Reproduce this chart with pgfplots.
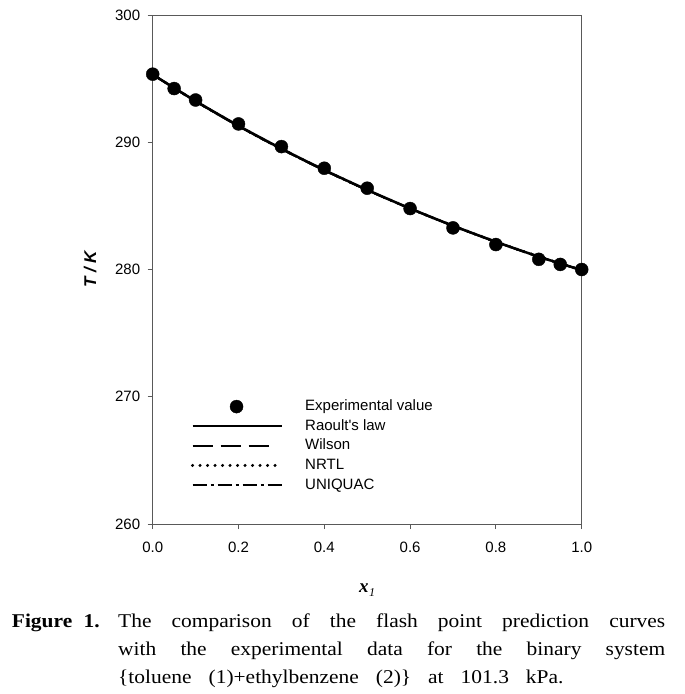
\documentclass[border=0pt]{standalone}
\usepackage{pgfplots}
\pgfplotsset{compat=1.18}
\usepackage{fontspec}
\setmainfont{Liberation Serif}
\newfontfamily\arial{Liberation Sans}
\newfontfamily\capfont[FakeStretch=1.1]{Liberation Serif}
\pgfplotsset{
  legline/.style={legend image code/.code={\draw[##1] (0pt,0pt) -- (#1,0pt);}},
  legmark/.style={legend image code/.code={\draw[mark repeat=2,mark phase=2,##1] plot coordinates {(0pt,0pt) (44pt,0pt) (89pt,0pt)};}},
}
\begin{document}
\begin{tikzpicture}
\useasboundingbox (0pt,0pt) rectangle (685pt,-694pt);
\begin{axis}[
  at={(152.7pt,-524pt)}, anchor=south west,
  scale only axis, width=429pt, height=509pt,
  xmin=0, xmax=1, ymin=260, ymax=300,
  xtick={0,0.2,...,1.0}, ytick={260,270,...,300},
  xtick pos=left, ytick pos=left, tick align=outside,
  major tick length=5pt,
  axis line style={black!65, line width=0.9pt},
  tick style={black!65, line width=0.9pt},
  /pgf/number format/assume math mode=true,
  ticklabel style={font=\arial\fontsize{15}{18}\selectfont},
  xticklabel style={yshift=-9pt, /pgf/number format/fixed, /pgf/number format/fixed zerofill, /pgf/number format/precision=1},
  yticklabel style={xshift=-4pt, /pgf/number format/fixed},
  every axis y label/.style={at={(axis description cs:-0.146,0.5)}, rotate=90, anchor=center},
  every axis x label/.style={at={(axis description cs:0.5,-0.13)}, anchor=center},
  ylabel={\arial\fontsize{17}{18}\selectfont\bfseries\itshape T / K},
  xlabel={\fontsize{19}{20}\selectfont\bfseries\itshape x\kern0.5pt\raisebox{-4.5pt}{\fontsize{12}{14}\selectfont\mdseries 1}},
  legend cell align=left,
  legend style={at={(axis description cs:0.0886,0.2448)}, anchor=north west, draw=none, fill=none,
    inner sep=0pt, column sep=22pt, row sep=5.6pt,
    nodes={inner sep=0pt, text height=11pt, text depth=3pt, font=\arial\fontsize{15}{18}\selectfont}},
]
\addplot[only marks, mark=*, mark size=6.5pt, black, legmark]
  coordinates {(0,295.35) (0.05,294.22) (0.1,293.32) (0.2,291.44) (0.3,289.66) (0.4,287.96) (0.5,286.39) (0.6,284.79) (0.7,283.27) (0.8,281.96) (0.9,280.8) (0.95,280.4) (1.0,280.0)};
\addlegendentry{Experimental value}
\addplot[black, line width=2.5pt, smooth, legline=89pt]
  coordinates {(0,295.32) (0.1,293.24) (0.2,291.30) (0.3,289.50) (0.4,287.82) (0.5,286.26) (0.6,284.80) (0.7,283.44) (0.8,282.18) (0.9,281.01) (1.0,279.95)};
\addlegendentry{Raoult's law}
\addplot[black, line width=2pt, dash pattern=on 20pt off 8pt, smooth, legline=81pt]
  coordinates {(0,295.32) (0.1,293.22) (0.2,291.27) (0.3,289.47) (0.4,287.80) (0.5,286.24) (0.6,284.79) (0.7,283.43) (0.8,282.17) (0.9,281.01) (1.0,279.95)};
\addlegendentry{Wilson}
\addplot[black, line width=3.3pt, dash pattern=on 0pt off 7.5pt, line cap=round, smooth, legline=89pt]
  coordinates {(0,295.32) (0.1,293.23) (0.2,291.28) (0.3,289.48) (0.4,287.81) (0.5,286.25) (0.6,284.80) (0.7,283.44) (0.8,282.18) (0.9,281.01) (1.0,279.95)};
\addlegendentry{NRTL}
\addplot[black, line width=2pt, dash pattern=on 14pt off 4pt on 3pt off 4pt, smooth, legline=89pt]
  coordinates {(0,295.32) (0.1,293.21) (0.2,291.26) (0.3,289.46) (0.4,287.79) (0.5,286.24) (0.6,284.78) (0.7,283.43) (0.8,282.17) (0.9,281.00) (1.0,279.95)};
\addlegendentry{UNIQUAC}
\end{axis}
\node[anchor=base west, inner sep=0pt, font=\capfont\fontsize{19.5}{28}\selectfont\bfseries] at (11.7pt,-627pt) {Figure\hspace{6pt} 1.};
\node[anchor=base west, inner sep=0pt, text width=547pt, align=justify, font=\capfont\fontsize{19.5}{28}\selectfont] at (118pt,-627pt)
 {\spaceskip=17pt plus 30pt minus 4pt The comparison of the flash point prediction curves\linebreak with the experimental data for the binary system\linebreak \{toluene (1)+ethylbenzene (2)\} at 101.3 kPa.};
\end{tikzpicture}
\end{document}
